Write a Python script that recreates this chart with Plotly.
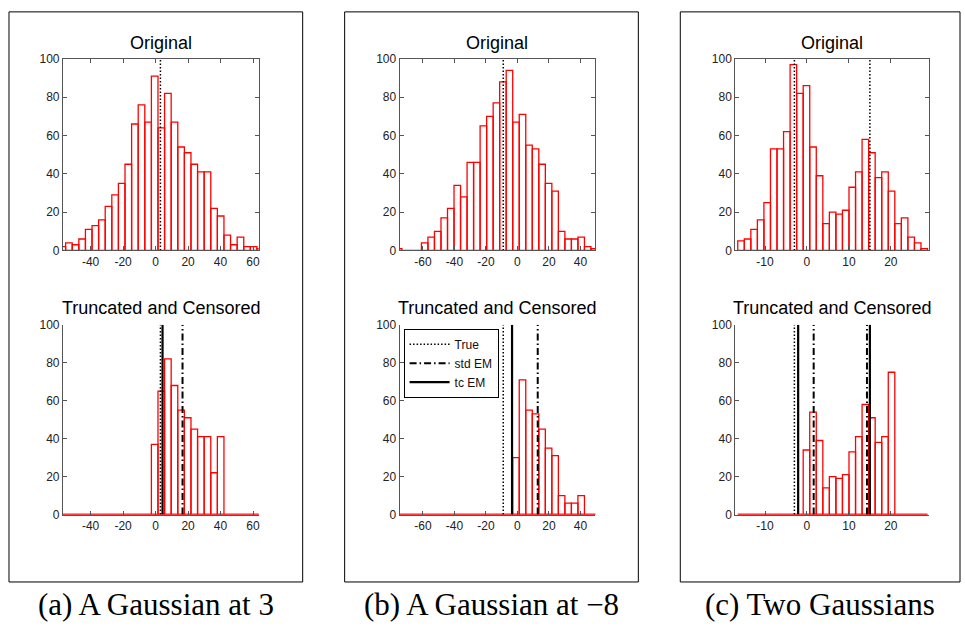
import plotly.graph_objects as go

W, H = 965, 632

# ---------------- data ----------------
# (a) A Gaussian at 3
a_bin_start, a_bin_width = -59.4, 4.06
a_orig = [2, 4, 3, 6, 11, 13, 16, 23, 29, 35, 45, 66, 76, 67, 91, 64, 82, 67, 54, 51,
          45, 41, 41, 22, 18, 8, 3, 7, 2, 2, 1]
a_tc = [0, 0, 0, 0, 0, 0, 0, 0, 0, 0, 0, 0, 0, 0, 37, 65, 82, 68, 55, 51,
        45, 41, 41, 22, 41, 0, 0, 0, 0, 0, 0]
a_xrange = [-57.0, 63.5]
a_ticks = [-40, -20, 0, 20, 40, 60]
a_true, a_std, a_tcem = [3], [16.6], [4.3]

# (b) A Gaussian at -8
b_bin_start, b_bin_width = -77.5, 4.14
b_orig = [1, 0, 0, 0, 4, 7, 10, 17, 22, 34, 28, 46, 46, 65, 70, 77, 88, 94, 67, 71,
          55, 53, 45, 35, 31, 10, 6, 6, 7, 2, 1]
b_tc = [0, 0, 0, 0, 0, 0, 0, 0, 0, 0, 0, 0, 0, 0, 0, 0, 0, 0, 30, 71,
        55, 53, 45, 35, 31, 10, 6, 6, 10, 0, 0]
b_xrange = [-74.8, 49.5]
b_ticks = [-60, -40, -20, 0, 20, 40]
b_true, b_std, b_tcem = [-9], [12.9], [-3.4]

# (c) Two Gaussians
c_bin_start, c_bin_width = -16.5, 1.56
c_orig = [5, 6, 11, 16, 25, 53, 53, 62, 97, 82, 86, 54, 39, 14, 20, 19, 21, 33, 41, 58,
          51, 38, 41, 31, 14, 17, 7, 4, 1]
c_tc = [0, 0, 0, 0, 0, 0, 0, 0, 0, 0, 34, 54, 39, 14, 20, 19, 21, 33, 41, 58,
        51, 38, 41, 75, 0, 0, 0, 0, 0]
c_xrange = [-17.1, 29.1]
c_ticks = [-10, 0, 10, 20]
c_true, c_std, c_tcem = [-3, 15], [1.6, 14.3], [-2.1, 15.0]

y_ticks = [0, 20, 40, 60, 80, 100]
top_title = "Original"
bottom_title = "Truncated and Censored"
captions = ["(a) A Gaussian at 3", "(b) A Gaussian at \u22128", "(c) Two Gaussians"]
legend_names = ["True", "std EM", "tc EM"]

panels = [
    (a_bin_start, a_bin_width, a_orig, a_tc, a_xrange, a_ticks, a_true, a_std, a_tcem),
    (b_bin_start, b_bin_width, b_orig, b_tc, b_xrange, b_ticks, b_true, b_std, b_tcem),
    (c_bin_start, c_bin_width, c_orig, c_tc, c_xrange, c_ticks, c_true, c_std, c_tcem),
]

# ---------------- layout geometry (pixels) ----------------
col_x = [(63, 259), (400, 596), (736, 930)]
top_y = (53, 249)
bot_y = (325, 519)
boxes = [(9, 303), (345, 639), (681, 961)]
box_y = (5, 588)

FONT = "Liberation Sans, Arial, Helvetica, sans-serif"
SERIF = "Liberation Serif, Times New Roman, serif"
AX = "#555555"
RED = "#ff0000"

def px(x):
    return x / W

def py(y):
    return 1 - y / H

fig = go.Figure()
layout = dict(
    width=W, height=H, margin=dict(l=0, r=0, t=0, b=0),
    paper_bgcolor="white", plot_bgcolor="white",
    font=dict(family=FONT, size=12, color="#222"),
    showlegend=True,
    legend=dict(x=px(404), y=py(329), xanchor="left", yanchor="top",
                bgcolor="white", bordercolor="black", borderwidth=1,
                font=dict(size=12, family=FONT, color="#111"),
                tracegroupgap=0, traceorder="normal", itemwidth=40),
)

annotations = []
shapes = []

def vline_xy(vals):
    xs, ys = [], []
    for v in vals:
        xs += [v, v, None]
        ys += [0, 100, None]
    return xs, ys

for i, (b0, bw, orig, tc, xr, xt, tv, sv, cv) in enumerate(panels):
    for row, counts in enumerate([orig, tc]):
        k = i + 1 + 3 * row
        xa = "x" if k == 1 else f"x{k}"
        ya = "y" if k == 1 else f"y{k}"
        centers = [b0 + bw * (j + 0.5) for j in range(len(counts))]
        fig.add_trace(go.Bar(
            x=centers, y=counts, width=bw, xaxis=xa, yaxis=ya,
            marker=dict(color="rgba(255,255,255,0)", line=dict(color=RED, width=1.3)),
            showlegend=False, hoverinfo="skip"))
        if row == 1:
            # zero-height bins drawn as a red baseline
            fig.add_trace(go.Scatter(
                x=[b0, b0 + bw * len(counts)], y=[0, 0], mode="lines",
                line=dict(color=RED, width=1.5), xaxis=xa, yaxis=ya,
                showlegend=False, hoverinfo="skip"))
        # vertical lines
        lx, ly = vline_xy(tv)
        fig.add_trace(go.Scatter(
            x=lx, y=ly, mode="lines", xaxis=xa, yaxis=ya,
            line=dict(color="black", width=1.5, dash="1.5px,2px"),
            name=legend_names[0], showlegend=(i == 1 and row == 1),
            hoverinfo="skip"))
        if row == 1:
            lx, ly = vline_xy(sv)
            fig.add_trace(go.Scatter(
                x=lx, y=ly, mode="lines", xaxis=xa, yaxis=ya,
                line=dict(color="black", width=2, dash="7px,3px,1.5px,3px"),
                name=legend_names[1], showlegend=(i == 1),
                hoverinfo="skip"))
            lx, ly = vline_xy(cv)
            fig.add_trace(go.Scatter(
                x=lx, y=ly, mode="lines", xaxis=xa, yaxis=ya,
                line=dict(color="black", width=2.2),
                name=legend_names[2], showlegend=(i == 1),
                hoverinfo="skip"))

        yy = top_y if row == 0 else bot_y
        xkey = "xaxis" if k == 1 else f"xaxis{k}"
        ykey = "yaxis" if k == 1 else f"yaxis{k}"
        mirror = "ticks" if row == 0 else False
        layout[xkey] = dict(
            domain=[px(col_x[i][0]), px(col_x[i][1])], anchor=ya, range=xr,
            tickvals=xt, ticktext=[str(t) for t in xt], ticks="inside", ticklen=4,
            tickcolor=AX, showline=True, linecolor=AX, linewidth=1, mirror=mirror,
            showgrid=False, zeroline=False, tickfont=dict(size=12, color="#222"))
        layout[ykey] = dict(
            domain=[py(yy[1]), py(yy[0])], anchor=xa, range=[0, 100],
            tickvals=y_ticks, ticktext=[str(t) for t in y_ticks], ticks="inside", ticklen=4,
            tickcolor=AX, showline=True, linecolor=AX, linewidth=1, mirror=mirror,
            showgrid=False, zeroline=False, tickfont=dict(size=12, color="#222"))

    cx = px((col_x[i][0] + col_x[i][1]) / 2)
    annotations.append(dict(text=top_title, x=cx, y=py(37), xref="paper", yref="paper",
                            showarrow=False, xanchor="center", yanchor="middle",
                            font=dict(size=18, family=FONT, color="black")))
    annotations.append(dict(text=bottom_title, x=cx, y=py(308), xref="paper", yref="paper",
                            showarrow=False, xanchor="center", yanchor="middle",
                            font=dict(size=18, family=FONT, color="black")))
    bx0, bx1 = boxes[i]
    shapes.append(dict(type="rect", xref="paper", yref="paper",
                       x0=px(bx0), x1=px(bx1), y0=py(box_y[1]), y1=py(box_y[0]),
                       line=dict(color="black", width=1)))
    annotations.append(dict(text=captions[i], x=px((bx0 + bx1) / 2), y=py(611),
                            xref="paper", yref="paper", showarrow=False,
                            xanchor="center", yanchor="middle",
                            font=dict(size=31, family=SERIF, color="black")))

layout["annotations"] = annotations
layout["shapes"] = shapes
fig.update_layout(**layout)
fig.write_html("out.html")
